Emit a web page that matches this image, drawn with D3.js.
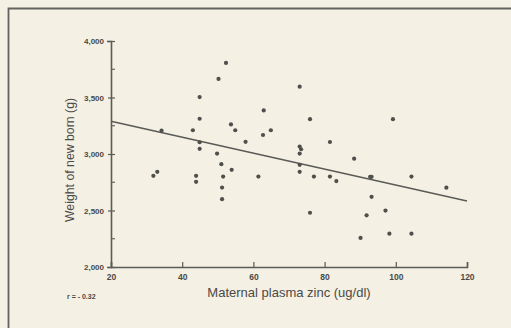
<!DOCTYPE html>
<html>
<head>
<meta charset="utf-8">
<script src="https://cdn.jsdelivr.net/npm/d3@7"></script>
<style>
  html, body { margin: 0; padding: 0; background: #f4f0e3; }
  svg { display: block; }
  text { font-family: "Liberation Sans", Arial, sans-serif; fill: #4a4a48; }
</style>
</head>
<body>
<svg id="chart" width="511" height="328"></svg>
<script>
// Maternal plasma zinc (ug/dl)
const zinc = [52.3, 50.2, 44.9, 44.9, 43.0, 34.2, 53.7, 54.9, 57.8, 44.9,
              44.9, 49.8, 51.0, 53.9, 73.0, 62.9, 75.9, 99.2, 64.9, 62.7,
              81.5, 73.0, 73.4, 73.0, 88.3, 73.0, 73.0, 31.9, 33.0, 43.9,
              43.9, 51.5, 51.2, 51.2, 61.4, 77.0, 81.5, 83.3, 92.8, 93.2,
              104.4, 114.2, 93.2, 75.9, 91.8, 97.1, 90.1, 98.2, 104.4];
// Weight of new born (g)
const weight = [3806, 3664, 3504, 3312, 3210, 3208, 3262, 3210, 3108, 3104,
                3046, 3004, 2910, 2860, 3596, 3386, 3308, 3308, 3210, 3168,
                3106, 3066, 3042, 3004, 2959, 2904, 2842, 2807, 2842, 2807,
                2754, 2800, 2703, 2600, 2800, 2800, 2800, 2760, 2798, 2798,
                2800, 2702, 2621, 2480, 2457, 2499, 2257, 2295, 2295];
// Regression line endpoints [zinc, weight]
const regression = [[20, 3290], [120, 2585]];
const xTicks = [20, 40, 60, 80, 100, 120];
const yTicks = [2000, 2500, 3000, 3500, 4000];
const yMinorTicks = [2250, 2750, 3250, 3750];
const yTickLabels = ["2,000", "2,500", "3,000", "3,500", "4,000"];
const xTitle = "Maternal plasma zinc (ug/dl)";
const yTitle = "Weight of new born (g)";
const rNote = "r = - 0.32";

const svg = d3.select("#chart");
const ink = "#5a5a57";

// outer frame of the figure
svg.append("path")
  .attr("d", "M8.5,328 L8.5,8.5 L511,8.5")
  .attr("fill", "none").attr("stroke", "#62625e").attr("stroke-width", 1.8);

const x = d3.scaleLinear().domain([20, 120]).range([111, 467]);
const y = d3.scaleLinear().domain([2000, 4000]).range([267, 41]);

// x axis
const xAxis = d3.axisBottom(x).tickValues(xTicks).tickSize(-5).tickPadding(7)
  .tickFormat(d => d);
const gx = svg.append("g").attr("transform", `translate(0,${y(2000)})`).call(xAxis);
gx.select(".domain").attr("stroke", ink).attr("stroke-width", 1.6);
gx.selectAll(".tick line").attr("stroke", ink).attr("stroke-width", 1.2);
gx.selectAll(".tick text").attr("fill", "#4a4a48")
  .style("font-size", "8.5px").style("font-weight", "bold");

// y axis
const yAxis = d3.axisLeft(y).tickValues(yTicks).tickSize(4).tickPadding(3)
  .tickFormat((d, i) => yTickLabels[i]);
const gy = svg.append("g").attr("transform", `translate(${x(20)},0)`).call(yAxis);
gy.select(".domain").attr("stroke", ink).attr("stroke-width", 1.6);
gy.selectAll(".tick line").attr("stroke", ink).attr("stroke-width", 1.2).attr("x2", 4).attr("x1", -3);
gy.selectAll(".tick text").attr("fill", "#4a4a48")
  .style("font-size", "8px").style("font-weight", "bold");

// minor y ticks (inside)
svg.append("g").selectAll("line").data(yMinorTicks).join("line")
  .attr("x1", x(20)).attr("x2", x(20) + 4)
  .attr("y1", d => y(d)).attr("y2", d => y(d))
  .attr("stroke", ink).attr("stroke-width", 1.1);

// regression line
svg.append("line")
  .attr("x1", x(regression[0][0])).attr("y1", y(regression[0][1]))
  .attr("x2", x(regression[1][0])).attr("y2", y(regression[1][1]))
  .attr("stroke", ink).attr("stroke-width", 1.5);

// points
svg.append("g").selectAll("circle").data(zinc).join("circle")
  .attr("cx", (d, i) => x(d)).attr("cy", (d, i) => y(weight[i]))
  .attr("r", 2.1).attr("fill", "#4f4f4c");

// titles
svg.append("text").attr("x", 289).attr("y", 297).attr("text-anchor", "middle")
  .style("font-size", "13px").text(xTitle);
svg.append("text").attr("transform", "translate(74,160) rotate(-90)")
  .attr("text-anchor", "middle").style("font-size", "12.3px").text(yTitle);
svg.append("text").attr("x", 67).attr("y", 299)
  .style("font-size", "7px").style("font-weight", "bold").text(rNote);
</script>
</body>
</html>
